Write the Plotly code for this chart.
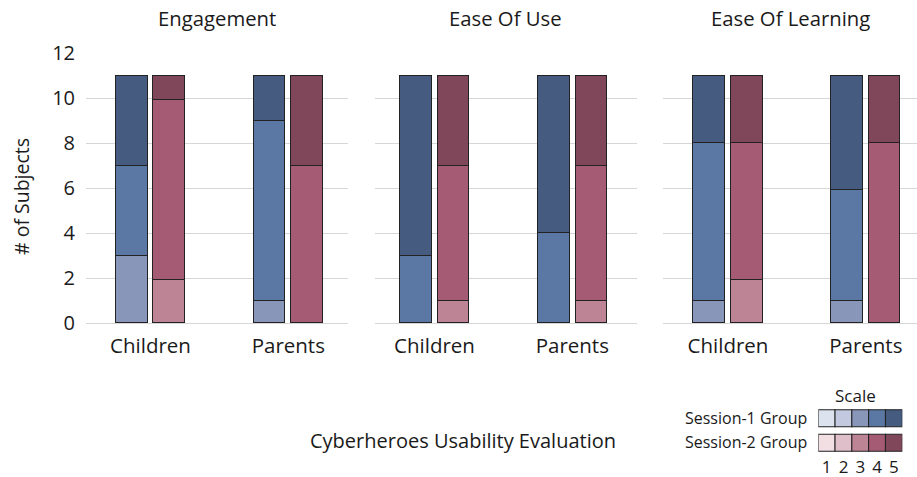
import plotly.graph_objects as go

# ---------------- data ----------------
metrics = ["Engagement", "Ease Of Use", "Ease Of Learning"]
groups = ["Children", "Parents"]
sessions = ["Session-1 Group", "Session-2 Group"]
levels = [1, 2, 3, 4, 5]

# counts per level (1..5) for [Children, Parents]
engagement_s1 = {"Children": [0, 0, 3, 4, 4], "Parents": [0, 0, 1, 8, 2]}
engagement_s2 = {"Children": [0, 0, 1.9, 8, 1.1], "Parents": [0, 0, 0, 7, 4]}
ease_use_s1 = {"Children": [0, 0, 0, 3, 8], "Parents": [0, 0, 0, 4, 7]}
ease_use_s2 = {"Children": [0, 0, 1, 6, 4], "Parents": [0, 0, 1, 6, 4]}
ease_learn_s1 = {"Children": [0, 0, 1, 7, 3], "Parents": [0, 0, 1, 4.9, 5.1]}
ease_learn_s2 = {"Children": [0, 0, 1.9, 6.1, 3], "Parents": [0, 0, 0, 8, 3]}

data = {
    "Engagement": [engagement_s1, engagement_s2],
    "Ease Of Use": [ease_use_s1, ease_use_s2],
    "Ease Of Learning": [ease_learn_s1, ease_learn_s2],
}

y_ticks = [0, 2, 4, 6, 8, 10, 12]

colors_s1 = ["#dde3ee", "#c3c9df", "#8896b9", "#5b78a5", "#455b7f"]
colors_s2 = ["#f1dfe4", "#dfbfca", "#bc8494", "#a65b74", "#80465a"]
session_colors = [colors_s1, colors_s2]

# ---------------- layout geometry ----------------
W, H = 917, 477
FONT = "Open Sans"
TXT = "#1a1a1a"
GRID = "#d6d6d6"
EDGE = "#222222"


def pxx(x):
    return x / W


def pxy(y):
    return 1 - y / H


facet_px = [(86, 348.3, 150.5), (374.7, 636.7, 434.5), (663, 917, 728)]
unit = 137.8
y_top, y_bot = 53.3, 323.3
offset = 0.136
bar_w = 0.229

fig = go.Figure()

for i, m in enumerate(metrics):
    ax = "" if i == 0 else str(i + 1)
    for s, sess in enumerate(sessions):
        xs = [g + (-offset if s == 0 else offset) for g in range(len(groups))]
        for li, lv in enumerate(levels):
            ys = [data[m][s][g][li] for g in groups]
            ys = [v if v else None for v in ys]
            fig.add_trace(go.Bar(
                x=xs, y=ys, width=bar_w,
                marker=dict(color=session_colors[s][li],
                            line=dict(color=EDGE, width=1.1)),
                xaxis="x" + ax, yaxis="y" + ax,
                showlegend=False,
                name=f"{sess} {lv}",
            ))
    L, R, c = facet_px[i]
    fig.layout["xaxis" + ax] = dict(
        domain=[pxx(L), pxx(R)],
        range=[(L - c) / unit, (R - c) / unit],
        tickvals=list(range(len(groups))), ticktext=groups,
        showgrid=False, zeroline=False, showline=False, ticks="",
        tickfont=dict(size=20.5, color=TXT, family=FONT),
        ticklabelstandoff=8, automargin=False,
        anchor="y" + ax, fixedrange=True,
    )
    fig.layout["yaxis" + ax] = dict(
        domain=[pxy(y_bot), pxy(y_top)],
        range=[0, 12], tickvals=y_ticks,
        showgrid=True, gridcolor=GRID, gridwidth=1,
        zeroline=True, zerolinecolor=GRID, zerolinewidth=1,
        showline=False, ticks="",
        showticklabels=(i == 0),
        tickfont=dict(size=20, color=TXT, family=FONT),
        ticklabelstandoff=10, automargin=False,
        anchor="x" + ax, fixedrange=True,
    )
    fig.add_annotation(text=m, x=pxx((L + R) / 2), y=pxy(18), xref="paper", yref="paper",
                       showarrow=False, font=dict(size=20.3, color=TXT, family=FONT),
                       xanchor="center", yanchor="middle")

# legend as a small scatter grid
leg_x0, leg_x1 = 818.3, 902.3
leg_y0, leg_y1 = 406.1, 454.9
for s, sess in enumerate(sessions):
    fig.add_trace(go.Scatter(
        x=levels, y=[sess] * len(levels), mode="markers",
        marker=dict(symbol="square", size=17, color=session_colors[s],
                    line=dict(color=EDGE, width=1.1)),
        xaxis="x4", yaxis="y4", showlegend=False, hoverinfo="skip",
    ))
fig.layout["xaxis4"] = dict(
    domain=[pxx(leg_x0), pxx(leg_x1)], range=[0.5, 5.5],
    tickvals=levels, showgrid=False, zeroline=False, showline=False, ticks="",
    tickfont=dict(size=17, color=TXT, family=FONT), ticklabelstandoff=0,
    automargin=False, anchor="y4", fixedrange=True,
)
fig.layout["yaxis4"] = dict(
    domain=[pxy(leg_y1), pxy(leg_y0)], range=[1.5, -0.5],
    type="category", categoryarray=sessions,
    showgrid=False, zeroline=False, showline=False, ticks="",
    tickfont=dict(size=16, color=TXT, family=FONT), ticklabelstandoff=10,
    automargin=False, anchor="x4", fixedrange=True,
)
fig.add_annotation(text="Scale", x=pxx(855), y=pxy(395), xref="paper", yref="paper",
                   showarrow=False, font=dict(size=17, color=TXT, family=FONT),
                   xanchor="center", yanchor="middle")
fig.add_annotation(text="Cyberheroes Usability Evaluation", x=pxx(463), y=pxy(440),
                   xref="paper", yref="paper", showarrow=False,
                   font=dict(size=20, color=TXT, family=FONT),
                   xanchor="center", yanchor="middle")
fig.add_annotation(text="# of Subjects", x=pxx(21), y=pxy(197), xref="paper", yref="paper",
                   showarrow=False, textangle=-90,
                   font=dict(size=19.5, color=TXT, family=FONT),
                   xanchor="center", yanchor="middle")

fig.update_layout(
    template="none",
    width=W, height=H, barmode="stack", bargap=0,
    margin=dict(l=0, r=0, t=0, b=0, pad=0, autoexpand=False),
    paper_bgcolor="white", plot_bgcolor="white",
    font=dict(family=FONT, color=TXT),
)

fig.write_html(
    "out.html",
    config={"displayModeBar": False},
    post_script="document.body.style.margin='0px';document.body.style.overflow='hidden';",
)
